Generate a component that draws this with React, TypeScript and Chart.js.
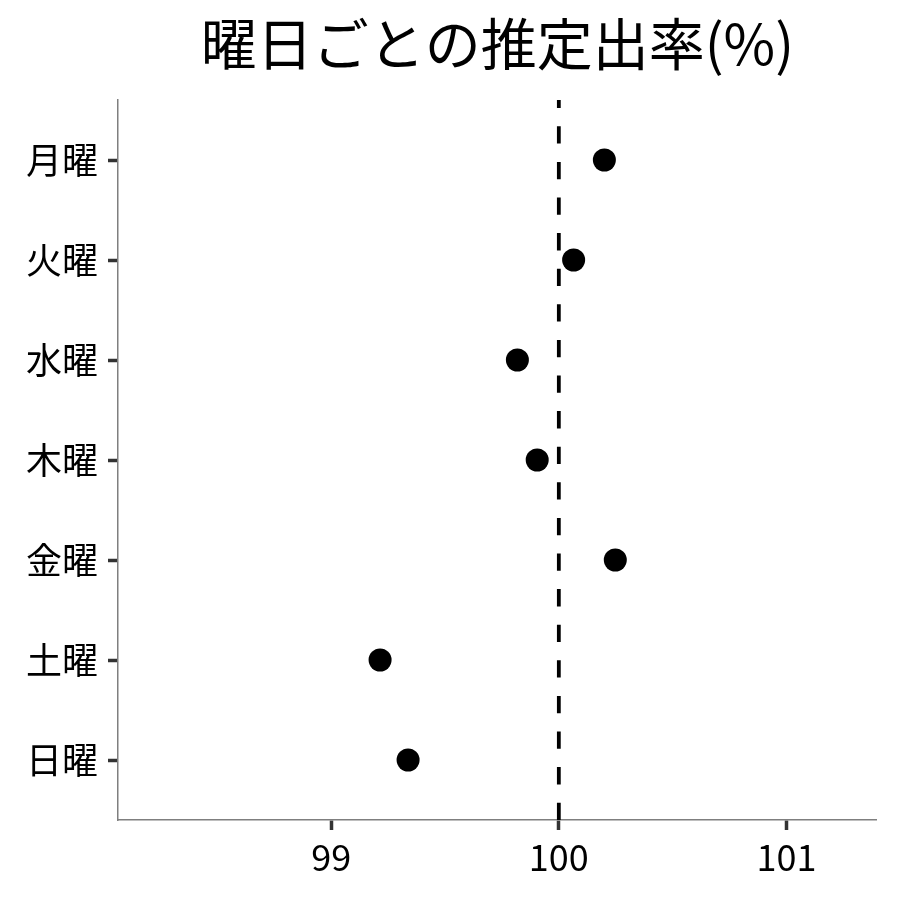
import React, { useEffect, useRef } from "react";
import { Chart, registerables } from "chart.js";

Chart.register(...registerables);

const TITLE = "曜日ごとの推定出率(%)";
const DAYS = ["月曜", "火曜", "水曜", "木曜", "金曜", "土曜", "日曜"];
const ESTIMATES = [100.2, 100.065, 99.818, 99.905, 100.248, 99.215, 99.338];
const X_TICKS = [99, 100, 101];
const REFERENCE = 100;
const X_MIN = 98.064;
const X_MAX = 101.396;
const Y_MIN = -0.6;
const Y_MAX = 6.6;

const FONT = '"Noto Sans CJK JP", "Noto Sans", sans-serif';

export default function App() {
  const ref = useRef<HTMLCanvasElement | null>(null);

  useEffect(() => {
    if (!ref.current) return;
    const chart = new Chart(ref.current, {
      type: "scatter",
      data: {
        datasets: [
          {
            label: "ref",
            data: [
              { x: REFERENCE, y: Y_MAX },
              { x: REFERENCE, y: Y_MIN },
            ],
            showLine: true,
            borderColor: "#000000",
            borderWidth: 3.8,
            borderDash: [17.3, 18.3],
            borderCapStyle: "butt",
            pointRadius: 0,
            pointHoverRadius: 0,
            fill: false,
            order: 2,
          } as any,
          {
            label: "estimate",
            data: ESTIMATES.map((v, i) => ({ x: v, y: i })),
            backgroundColor: "#000000",
            borderWidth: 0,
            pointRadius: 11.5,
            pointHoverRadius: 11.5,
            order: 1,
          },
        ],
      },
      options: {
        animation: false,
        responsive: false,
        devicePixelRatio: 1,
        events: [],
        layout: { padding: { left: 0, right: 23.3, top: 0, bottom: 0 } },
        plugins: {
          legend: { display: false },
          tooltip: { enabled: false },
          title: {
            display: true,
            text: TITLE,
            fullSize: false,
            color: "#000000",
            font: { family: FONT, size: 56, weight: "normal", lineHeight: 1.2 },
            padding: { top: 10, bottom: 22.8 },
          },
        },
        scales: {
          x: {
            type: "linear",
            min: X_MIN,
            max: X_MAX,
            afterBuildTicks: (scale: any) => {
              scale.ticks = X_TICKS.map((v) => ({ value: v }));
            },
            afterFit: (scale: any) => {
              scale.height = 80;
            },
            border: { display: true, color: "#7f7f7f", width: 1.5 },
            grid: {
              display: true,
              drawOnChartArea: false,
              drawTicks: true,
              tickLength: 10,
              tickWidth: 3.5,
              tickColor: "#333333",
            },
            ticks: {
              color: "#000000",
              padding: 6,
              font: { family: FONT, size: 36 },
              callback: (v: any) => String(v),
              maxRotation: 0,
            },
          },
          y: {
            type: "linear",
            reverse: true,
            min: Y_MIN,
            max: Y_MAX,
            afterBuildTicks: (scale: any) => {
              scale.ticks = DAYS.map((_, i) => ({ value: i }));
            },
            afterFit: (scale: any) => {
              scale.width = 118;
            },
            border: { display: true, color: "#7f7f7f", width: 1.5 },
            grid: {
              display: true,
              drawOnChartArea: false,
              drawTicks: true,
              tickLength: 10,
              tickWidth: 3.5,
              tickColor: "#333333",
            },
            ticks: {
              color: "#000000",
              padding: 10,
              font: { family: FONT, size: 36 },
              callback: (v: any) => DAYS[Math.round(Number(v))] ?? "",
            },
          },
        },
      },
    });
    return () => chart.destroy();
  }, []);

  return (
    <div style={{ position: "fixed", left: 0, top: 0, width: 900, height: 900, background: "#ffffff" }}>
      <canvas ref={ref} width={900} height={900} style={{ width: 900, height: 900, display: "block" }} />
    </div>
  );
}
